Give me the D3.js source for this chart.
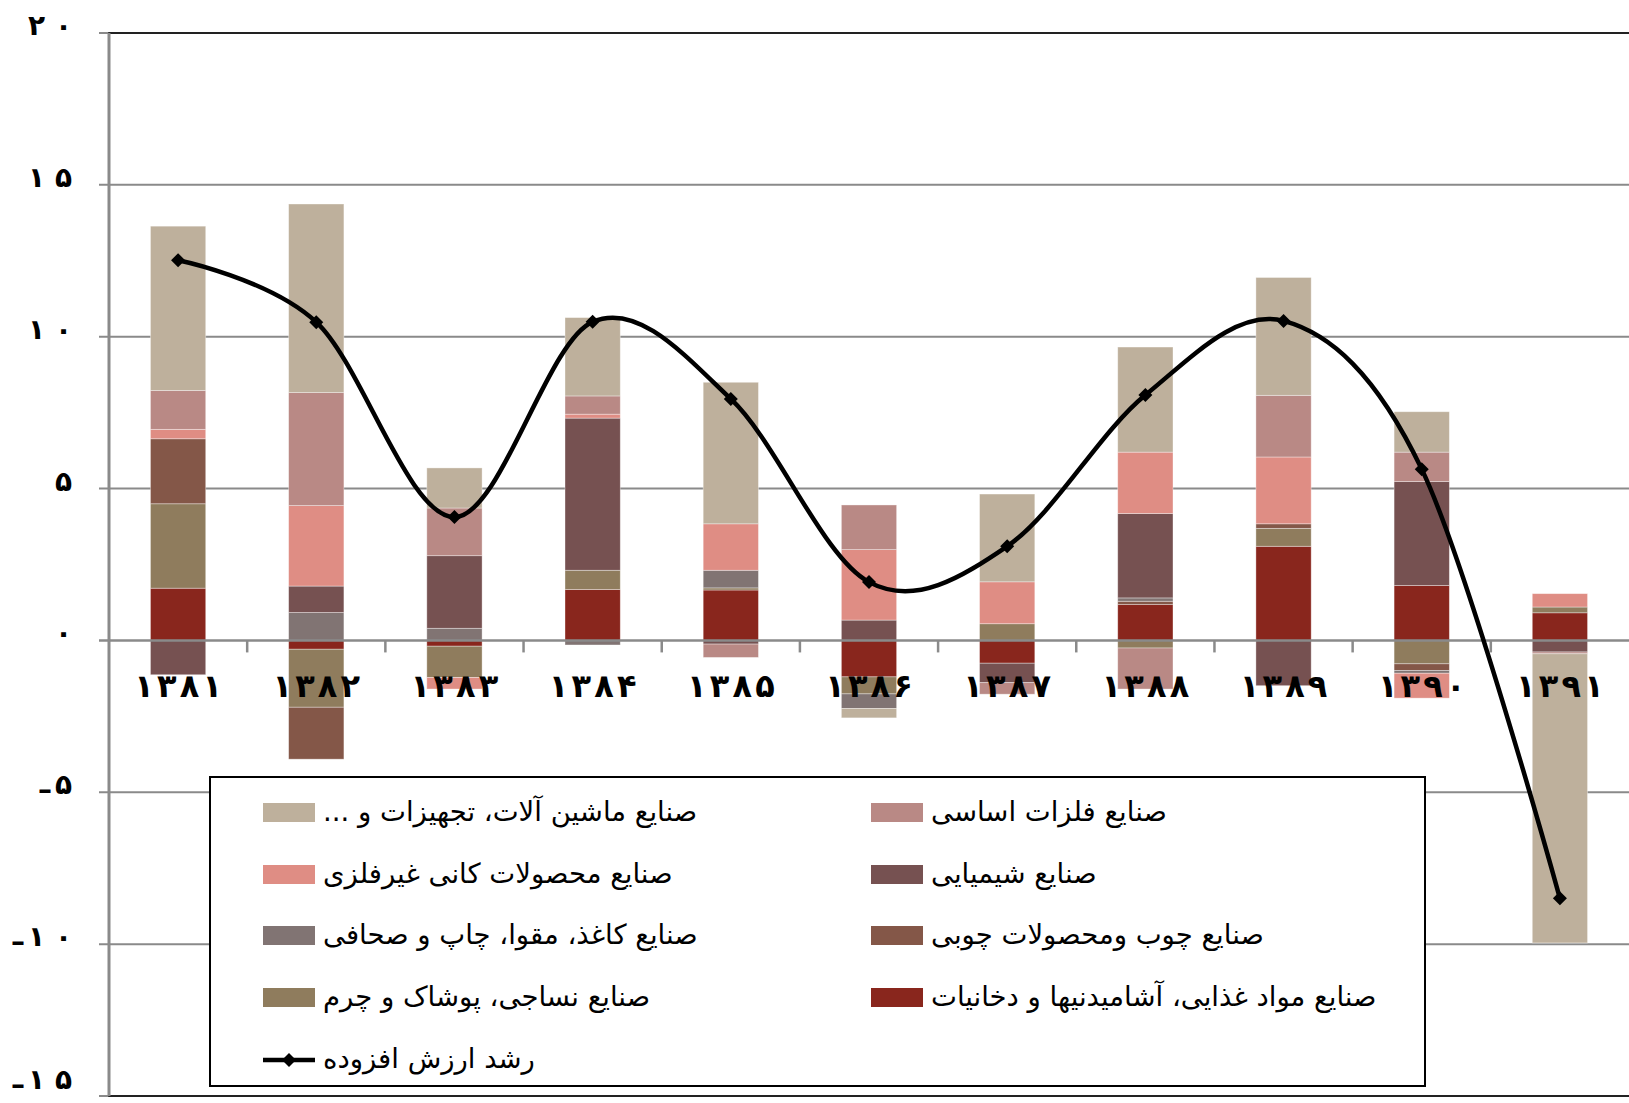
<!DOCTYPE html>
<html>
<head>
<meta charset="utf-8">
<script src="https://cdnjs.cloudflare.com/ajax/libs/d3/7.8.5/d3.min.js"></script>
<style>
  html, body { margin: 0; padding: 0; background: #fff; }
  svg { display: block; }
</style>
</head>
<body>
<svg id="chart" width="1629" height="1103"></svg>
<script>
var years = ["1381", "1382", "1383", "1384", "1385", "1386", "1387", "1388", "1389", "1390", "1391"];
var yTicks = [-15, -10, -5, 0, 5, 10, 15, 20];

// series values, percent contribution per year
var food      = [1.72, -0.29, -0.19, 1.68, 1.66, -1.20, -0.75, 1.18, 3.10, 1.81, 0.91];
var textile   = [2.78, -1.91, -1.03, 0.63, 0.07, -0.56, 0.55, -0.25, 0.59, -0.77, 0.19];
var wood      = [2.14, -1.71, 0, 0, 0, 0, 0, 0.11, 0.15, -0.22, 0];
var paper     = [0, 0.92, 0.40, -0.15, 0.58, -0.48, 0, 0.11, 0, -0.09, 0];
var chemical  = [-1.13, 0.87, 2.39, 5.01, -0.12, 0.67, -0.64, 2.78, -1.49, 3.42, -0.38];
var nonmetal  = [0.31, 2.65, -0.38, 0.13, 1.53, 2.32, 1.38, 2.02, 2.20, -0.82, 0.44];
var metals    = [1.28, 3.72, 1.57, 0.60, -0.44, 1.47, -0.38, -1.35, 2.03, 0.97, -0.06];
var machinery = [5.41, 6.21, 1.32, 2.58, 4.66, -0.31, 2.89, 3.46, 3.88, 1.33, -9.52];
var growth    = [12.52, 10.48, 4.06, 10.49, 7.95, 1.92, 3.10, 8.08, 10.52, 5.64, -8.49];

var seriesKeys = ["food", "textile", "wood", "paper", "chemical", "nonmetal", "metals", "machinery"];
var seriesValues = [food, textile, wood, paper, chemical, nonmetal, metals, machinery];
var seriesNames = {
  machinery: "صنایع ماشین آلات، تجهیزات و ...",
  metals: "صنایع فلزات اساسی",
  nonmetal: "صنایع محصولات کانی غیرفلزی",
  chemical: "صنایع شیمیایی",
  paper: "صنایع کاغذ، مقوا، چاپ و صحافی",
  wood: "صنایع چوب ومحصولات چوبی",
  textile: "صنایع نساجی، پوشاک و چرم",
  food: "صنایع مواد غذایی، آشامیدنیها و دخانیات"
};
var lineName = "رشد ارزش افزوده";
var colors = {
  food: "#89261d",
  textile: "#8f7c5d",
  wood: "#845748",
  paper: "#817473",
  chemical: "#765151",
  nonmetal: "#df8d84",
  metals: "#b98985",
  machinery: "#beb09c"
};
// legend layout: two columns, read right to left
var legendLeft = ["machinery", "nonmetal", "paper", "textile"];
var legendRight = ["metals", "chemical", "wood", "food"];

(function () {
  var svg = d3.select("#chart");
  var left = 109, right = 1629, top = 33, bottom = 1096;
  var font = "'DejaVu Sans', sans-serif";

  // persian digits, spread apart with a separator (letter-spacing is ignored here)
  function fa(s, sep) {
    return String(s).split("").map(function (c) { return "۰۱۲۳۴۵۶۷۸۹"[+c]; }).join(sep || "");
  }

  var rows = years.map(function (yr, i) {
    var r = { year: yr };
    seriesKeys.forEach(function (k, j) { r[k] = seriesValues[j][i]; });
    return r;
  });

  var stack = d3.stack().keys(seriesKeys).offset(d3.stackOffsetDiverging);
  var layers = stack(rows);

  var x = d3.scaleBand().domain(years).range([left, right]).paddingInner(0.6).paddingOuter(0.3);
  var y = d3.scaleLinear().domain([-15, 20]).range([bottom, top]);
  var step = x.step();

  // gridlines
  svg.append("g")
    .selectAll("line")
    .data(yTicks.filter(function (d) { return d !== 0; }))
    .enter()
    .append("line")
    .attr("x1", left - 10)
    .attr("x2", right)
    .attr("y1", function (d) { return y(d); })
    .attr("y2", function (d) { return y(d); })
    .attr("stroke", "#8a8a8a")
    .attr("stroke-width", 2);

  // y labels (minus sign sits low, like the original)
  var yl = svg.append("g")
    .selectAll("text")
    .data(yTicks)
    .enter()
    .append("text")
    .attr("x", 72)
    .attr("y", function (d) { return Math.min(y(d) + 2, 1089); })
    .attr("text-anchor", "end")
    .style("font-family", font)
    .style("font-weight", "bold")
    .style("font-size", "28px");
  yl.filter(function (d) { return d < 0; })
    .append("tspan")
    .attr("dy", "0.18em")
    .text("–");
  yl.append("tspan")
    .attr("dy", function (d) { return d < 0 ? "-0.18em" : null; })
    .attr("dx", function (d) { return d < 0 ? 3 : null; })
    .text(function (d) { return fa(Math.abs(d), " "); });

  // stacked bars
  svg.append("g")
    .selectAll("g")
    .data(layers)
    .enter()
    .append("g")
    .attr("fill", function (d) { return colors[d.key]; })
    .selectAll("rect")
    .data(function (d) { return d; })
    .enter()
    .append("rect")
    .attr("x", function (d) { return x(d.data.year); })
    .attr("width", x.bandwidth())
    .attr("y", function (d) { return y(Math.max(d[0], d[1])); })
    .attr("height", function (d) { return Math.abs(y(d[0]) - y(d[1])); })
    .attr("stroke", "rgba(255,255,255,0.45)")
    .attr("stroke-width", 0.8);

  // plot frame + axes
  svg.append("rect")
    .attr("x", left)
    .attr("y", top)
    .attr("width", right - left + 5)
    .attr("height", bottom - top)
    .attr("fill", "none")
    .attr("stroke", "#000")
    .attr("stroke-width", 1.5);
  svg.append("line")
    .attr("x1", left).attr("x2", left)
    .attr("y1", top).attr("y2", bottom)
    .attr("stroke", "#8a8a8a")
    .attr("stroke-width", 3);
  svg.append("line")
    .attr("x1", left - 10).attr("x2", right)
    .attr("y1", y(0)).attr("y2", y(0))
    .attr("stroke", "#8a8a8a")
    .attr("stroke-width", 2.5);
  svg.append("g")
    .selectAll("line")
    .data(years.slice(1))
    .enter()
    .append("line")
    .attr("x1", function (d) { return x(d) - step * 0.3; })
    .attr("x2", function (d) { return x(d) - step * 0.3; })
    .attr("y1", y(0))
    .attr("y2", y(0) + 12)
    .attr("stroke", "#8a8a8a")
    .attr("stroke-width", 2.5);

  // x labels
  svg.append("g")
    .selectAll("text")
    .data(years)
    .enter()
    .append("text")
    .attr("x", function (d) { return x(d) + x.bandwidth() / 2; })
    .attr("y", y(0) + 57)
    .attr("text-anchor", "middle")
    .style("font-family", font)
    .style("font-weight", "bold")
    .style("font-size", "32px")
    .text(function (d) { return fa(d, "\u200A"); });

  // growth line
  var pts = years.map(function (yr, i) { return [x(yr) + x.bandwidth() / 2, y(growth[i])]; });
  svg.append("path")
    .attr("d", d3.line().curve(d3.curveCardinal.tension(0))(pts))
    .attr("fill", "none")
    .attr("stroke", "#000")
    .attr("stroke-width", 4.5);
  var diamond = "M0,-7L7,0L0,7L-7,0Z";
  svg.append("g")
    .selectAll("path")
    .data(pts)
    .enter()
    .append("path")
    .attr("d", diamond)
    .attr("transform", function (d) { return "translate(" + d[0] + "," + d[1] + ")"; })
    .attr("fill", "#000");

  // legend
  var lg = svg.append("g");
  lg.append("rect")
    .attr("x", 210).attr("y", 777)
    .attr("width", 1215).attr("height", 309)
    .attr("fill", "#fff")
    .attr("stroke", "#000")
    .attr("stroke-width", 2);
  var rowY = [813, 875, 936, 998, 1060];
  function legendText(x0, row, label) {
    lg.append("text")
      .attr("x", x0)
      .attr("y", rowY[row])
      .attr("dy", "0.3em")
      .attr("direction", "rtl")
      .attr("text-anchor", "end")
      .style("font-family", font)
      .style("font-size", "27.5px")
      .text(label);
  }
  function legendItem(key, col, row) {
    var sx = col === 0 ? 263 : 871;
    lg.append("rect")
      .attr("x", sx).attr("y", rowY[row] - 10)
      .attr("width", 52).attr("height", 19)
      .attr("fill", colors[key]);
    legendText(sx + 60, row, seriesNames[key]);
  }
  legendLeft.forEach(function (k, i) { legendItem(k, 0, i); });
  legendRight.forEach(function (k, i) { legendItem(k, 1, i); });
  lg.append("line")
    .attr("x1", 263).attr("x2", 315)
    .attr("y1", rowY[4]).attr("y2", rowY[4])
    .attr("stroke", "#000").attr("stroke-width", 4.5);
  lg.append("path")
    .attr("d", diamond)
    .attr("transform", "translate(289," + rowY[4] + ")")
    .attr("fill", "#000");
  legendText(323, 4, lineName);
})();
</script>
</body>
</html>
